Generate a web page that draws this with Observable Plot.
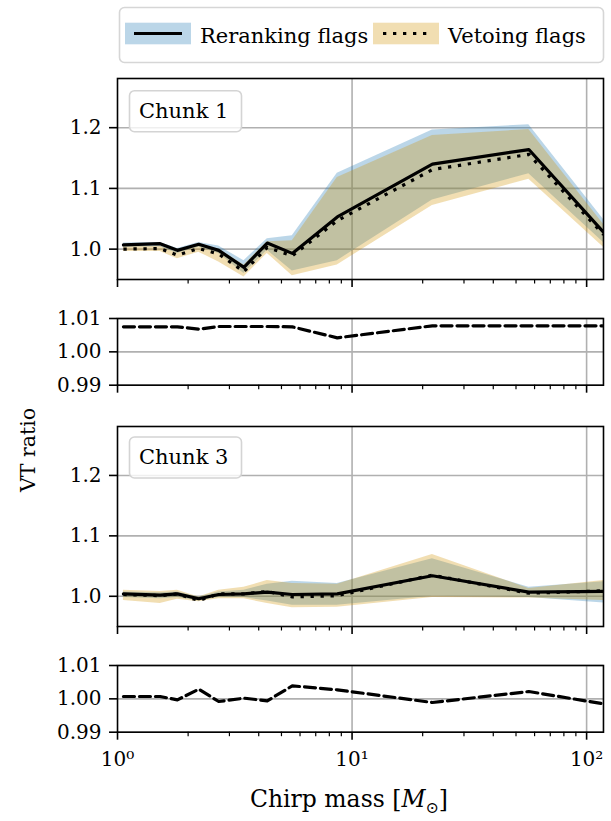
<!DOCTYPE html>
<html><head><meta charset="utf-8">
<script src="https://cdn.jsdelivr.net/npm/d3@7"></script>
<script src="https://cdn.jsdelivr.net/npm/@observablehq/plot@0.6"></script>
<style>
body{margin:0;background:#fff;}
#wrap{position:relative;width:611px;height:821px;overflow:hidden;background:#fff;font-family:"DejaVu Serif",serif;}
#wrap svg, #wrap svg text{font-family:"DejaVu Serif",serif !important;}
</style></head><body><div id="wrap"></div>
<script>
// ---- data ----
const mass = [1.06, 1.52, 1.80, 2.22, 2.70, 3.46, 4.35, 5.56, 8.65, 22.0, 56.7, 118];

// Chunk 1
const c1RerankMid = [1.007, 1.009, 0.998, 1.008, 0.998, 0.970, 1.010, 0.993, 1.053, 1.140, 1.164, 1.028];
const c1RerankHi  = [1.010, 1.011, 1.001, 1.011, 1.005, 0.981, 1.017, 1.022, 1.125, 1.196, 1.205, 1.049];
const c1RerankLo  = [1.003, 1.004, 0.993, 1.003, 0.993, 0.960, 0.998, 0.964, 0.981, 1.081, 1.124, 1.011];
const c1VetoMid   = [1.000, 1.001, 0.990, 1.001, 0.992, 0.963, 1.003, 0.989, 1.047, 1.131, 1.156, 1.024];
const c1VetoHi    = [1.004, 1.005, 0.995, 1.005, 1.000, 0.974, 1.012, 1.014, 1.118, 1.187, 1.197, 1.041];
const c1VetoLo    = [0.996, 0.996, 0.984, 0.995, 0.979, 0.954, 0.993, 0.956, 0.974, 1.072, 1.115, 1.003];
const c1Ratio     = [1.0075, 1.0075, 1.0075, 1.0068, 1.0076, 1.0076, 1.0076, 1.0075, 1.0042, 1.0078, 1.0078, 1.0078];

// Chunk 3
const c3RerankMid = [1.004, 1.002, 1.004, 0.996, 1.003, 1.004, 1.007, 1.003, 1.004, 1.034, 1.007, 1.008];
const c3RerankHi  = [1.007, 1.006, 1.007, 0.999, 1.007, 1.010, 1.020, 1.025, 1.021, 1.062, 1.015, 1.024];
const c3RerankLo  = [0.998, 0.996, 0.998, 0.992, 0.998, 0.998, 0.992, 0.985, 0.985, 1.000, 0.998, 0.989];
const c3VetoMid   = [1.003, 1.001, 1.004, 0.993, 1.004, 1.004, 1.008, 0.999, 1.001, 1.035, 1.005, 1.009];
const c3VetoHi    = [1.010, 1.008, 1.010, 0.999, 1.010, 1.015, 1.026, 1.021, 1.020, 1.069, 1.013, 1.026];
const c3VetoLo    = [0.993, 0.988, 0.995, 0.991, 0.996, 0.996, 0.988, 0.981, 0.982, 0.998, 0.997, 0.993];
const c3Ratio     = [1.0007, 1.0007, 0.9997, 1.0029, 0.9992, 1.0002, 0.9994, 1.0039, 1.0027, 0.9989, 1.0022, 0.9985];

const xMajor = [1, 10, 100];
const xMinor = [2,3,4,5,6,7,8,9,20,30,40,50,60,70,80,90];
const xMajorLabels = ["10⁰", "10¹", "10²"];
const vtTicks = [1.0, 1.1, 1.2];
const ratioTicks = [0.99, 1.00, 1.01];
const legendLabels = ["Reranking flags", "Vetoing flags"];
const chunkLabels = ["Chunk 1", "Chunk 3"];

// ---- build ----
const wrap = document.getElementById("wrap");
const BLUE = "#1f77b4", ORANGE = "#d29300";
const GRID = "#b0b0b0";

const rows = (mid, hi, lo, vmid, vhi, vlo, ratio) => mass.map((m, i) => ({
  m, r: mid[i], rHi: hi[i], rLo: lo[i], v: vmid[i], vHi: vhi[i], vLo: vlo[i], ratio: ratio[i]
}));
const chunk1 = rows(c1RerankMid, c1RerankHi, c1RerankLo, c1VetoMid, c1VetoHi, c1VetoLo, c1Ratio);
const chunk3 = rows(c3RerankMid, c3RerankHi, c3RerankLo, c3VetoMid, c3VetoHi, c3VetoLo, c3Ratio);

function panel(cfg) {
  const mt = 3, mb = cfg.xlabels ? 50 : 12;
  const plotH = cfg.bottom - cfg.top;
  const p = Plot.plot({
    width: 611, height: plotH + mt + mb,
    marginLeft: 117, marginRight: 8, marginTop: mt, marginBottom: mb,
    style: {fontFamily: '"DejaVu Serif", serif', fontSize: "20px", background: "transparent", overflow: "visible", color: "black"},
    x: {type: "log", domain: [1, 118], axis: null, label: null},
    y: {domain: cfg.yDomain, axis: null, label: null},
    marks: [
      Plot.gridX([10, 100], {stroke: GRID, strokeOpacity: 1, strokeWidth: 1.6}),
      Plot.gridY(cfg.yTicks, {stroke: GRID, strokeOpacity: 1, strokeWidth: 1.6}),
      ...cfg.marks,
      Plot.frame({stroke: "black", strokeWidth: 1.6}),
      Plot.axisY(cfg.yTicks, {tickSize: 8, tickPadding: 8, strokeWidth: 1.6, tickFormat: cfg.yFmt, label: null, fontSize: 20}),
      Plot.axisX(xMajor, {tickSize: 8, tickPadding: 12, strokeWidth: 1.6, label: null, fontSize: 20,
        tickFormat: cfg.xlabels ? (d => xMajorLabels[xMajor.indexOf(d)]) : (() => "")}),
      Plot.axisX(xMinor, {tickSize: 4.5, strokeWidth: 1.2, label: null, tickFormat: () => ""})
    ]
  });
  p.style.position = "absolute";
  p.style.left = "0px";
  p.style.top = (cfg.top - mt) + "px";
  wrap.appendChild(p);
}

const vtMarks = d => [
  Plot.areaY(d, {x: "m", y1: "rLo", y2: "rHi", fill: BLUE, fillOpacity: 0.3, clip: true}),
  Plot.areaY(d, {x: "m", y1: "vLo", y2: "vHi", fill: ORANGE, fillOpacity: 0.3, clip: true}),
  Plot.line(d, {x: "m", y: "r", stroke: "black", strokeWidth: 3.2, clip: true}),
  Plot.line(d, {x: "m", y: "v", stroke: "black", strokeWidth: 3.2, strokeDasharray: "3.3,6.7", strokeLinecap: "butt", clip: true})
];
const ratioMarks = d => [
  Plot.line(d, {x: "m", y: "ratio", stroke: "black", strokeWidth: 3.2, strokeDasharray: "11,5", clip: true})
];

const f1 = d3.format(".1f"), f2 = d3.format(".2f");
panel({top: 78, bottom: 279, yDomain: [0.95, 1.281], yTicks: vtTicks, yFmt: f1, marks: vtMarks(chunk1)});
panel({top: 318.3, bottom: 385, yDomain: [0.99, 1.01], yTicks: ratioTicks, yFmt: f2, marks: ratioMarks(chunk1)});
panel({top: 425.7, bottom: 625.7, yDomain: [0.95, 1.281], yTicks: vtTicks, yFmt: f1, marks: vtMarks(chunk3)});
panel({top: 665, bottom: 731.7, yDomain: [0.99, 1.01], yTicks: ratioTicks, yFmt: f2, marks: ratioMarks(chunk3), xlabels: true});

// ---- overlay: legend, chunk labels, axis titles ----
const ns = "http://www.w3.org/2000/svg";
const ov = document.createElementNS(ns, "svg");
ov.setAttribute("width", 611); ov.setAttribute("height", 821);
ov.style.position = "absolute"; ov.style.left = "0"; ov.style.top = "0";
ov.innerHTML = `
  <rect x="119.5" y="7.5" width="484" height="55" rx="5" fill="white" fill-opacity="0.8" stroke="#d6d6d6" stroke-width="1.6"/>
  <rect x="125" y="22.7" width="66" height="21.6" fill="${BLUE}" fill-opacity="0.3"/>
  <line x1="134" x2="182" y1="33.5" y2="33.5" stroke="black" stroke-width="3.2"/>
  <text x="200" y="42.5" font-size="21">${legendLabels[0]}</text>
  <rect x="373" y="22.7" width="66" height="21.6" fill="${ORANGE}" fill-opacity="0.3"/>
  <line x1="383" x2="430" y1="33.5" y2="33.5" stroke="black" stroke-width="3.2" stroke-dasharray="3.3,6.7"/>
  <text x="448" y="42.5" font-size="21">${legendLabels[1]}</text>

  <rect x="129.5" y="90.7" width="112" height="41" rx="5" fill="white" fill-opacity="0.8" stroke="#d4d4d4" stroke-width="1.6"/>
  <text x="139" y="117.5" font-size="21">${chunkLabels[0]}</text>
  <rect x="129.5" y="437" width="112" height="41" rx="5" fill="white" fill-opacity="0.8" stroke="#d4d4d4" stroke-width="1.6"/>
  <text x="139" y="464" font-size="21">${chunkLabels[1]}</text>

  <text transform="translate(35,450) rotate(-90)" text-anchor="middle" font-size="20.5">VT ratio</text>
  <text x="349" y="806.5" text-anchor="middle" font-size="23.5">Chirp mass [<tspan font-style="italic">M</tspan><tspan dy="6" font-size="16">⊙</tspan><tspan dy="-6">]</tspan></text>
`;
wrap.appendChild(ov);
</script></body></html>
